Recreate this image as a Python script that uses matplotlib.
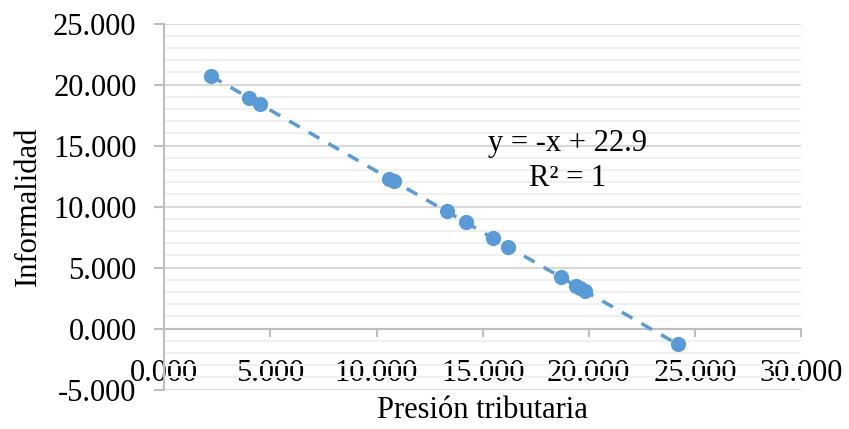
import matplotlib.pyplot as plt
import numpy as np
from matplotlib.ticker import MultipleLocator, FormatStrFormatter

# data
presion = [2.2, 4.0, 4.5, 10.6, 10.8, 13.3, 14.2, 15.5, 16.2, 18.7, 19.4, 19.6, 19.8, 24.2]
informalidad = [20.7, 18.9, 18.4, 12.3, 12.1, 9.6, 8.7, 7.4, 6.7, 4.2, 3.5, 3.3, 3.1, -1.3]
slope = -1.0
intercept = 22.9

plt.rcParams['font.family'] = ['Liberation Serif', 'DejaVu Serif']
blue = '#5b9bd5'

fig = plt.figure(figsize=(8.49, 4.29), dpi=100)
ax = fig.add_axes([0.1935, 0.092, 0.75, 0.853])

ax.set_xlim(0, 30)
ax.set_ylim(-5, 25)

# trendline over the data range
xs = np.array([min(presion), max(presion)])
ax.plot(xs, slope * xs + intercept, color=blue, lw=2.5, ls=(0, (3.5, 3)), zorder=3)
ax.scatter(presion, informalidad, s=120, color=blue, zorder=4, linewidths=0)

ax.text(19.0, 15.2, 'y = -x + 22.9', ha='center', va='center', fontsize=22)
ax.text(19.0, 12.3, 'R² = 1', ha='center', va='center', fontsize=22)

ax.yaxis.set_major_locator(MultipleLocator(5))
ax.yaxis.set_minor_locator(MultipleLocator(1))
ax.xaxis.set_major_locator(MultipleLocator(5))
ax.yaxis.set_major_formatter(FormatStrFormatter('%.3f'))
ax.xaxis.set_major_formatter(FormatStrFormatter('%.3f'))

ax.grid(axis='y', which='major', color='#d9d9d9', lw=1.5, zorder=0)
ax.grid(axis='y', which='minor', color='#f0f0f0', lw=1.5, zorder=0)
ax.set_axisbelow(True)

for s in ['top', 'right']:
    ax.spines[s].set_visible(False)
ax.spines['bottom'].set_position(('data', 0))
ax.spines['bottom'].set_color('#bfbfbf')
ax.spines['left'].set_color('#bfbfbf')
ax.spines['bottom'].set_linewidth(1.5)
ax.spines['left'].set_linewidth(1.5)

ax.tick_params(axis='y', which='major', length=7, width=1.5, color='#bfbfbf',
               labelsize=22, pad=13)
ax.tick_params(axis='y', which='minor', length=0)
ax.tick_params(axis='x', which='major', length=6, width=1.5, color='#bfbfbf',
               labelsize=22, pad=16)

ax.set_ylabel('Informalidad', fontsize=22)
ax.set_xlabel('Presión tributaria', fontsize=22, va='center')
ax.xaxis.set_label_coords(0.5, -0.058)
ax.yaxis.set_label_coords(-0.19, 0.5)

fig.savefig('out.png', dpi=100)
